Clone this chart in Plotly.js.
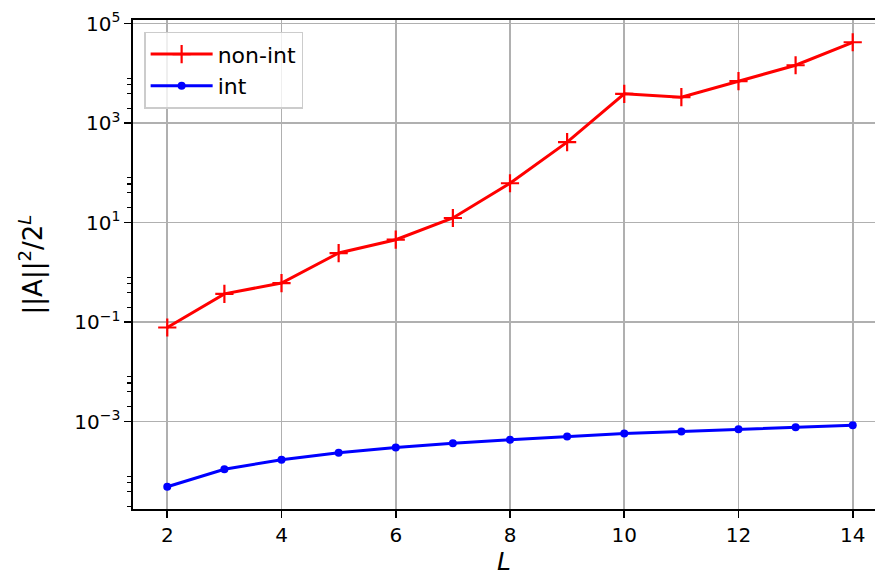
<!DOCTYPE html>
<html>
<head>
<meta charset="utf-8">
<script src="https://cdn.plot.ly/plotly-3.0.1.min.js"></script>
<style>
  html, body { margin: 0; padding: 0; overflow: hidden; background: #ffffff; }
  #chart { width: 875px; height: 576px; }
</style>
</head>
<body>
<div id="chart"></div>
<script>
// System size L
const sizes = [2, 3, 4, 5, 6, 7, 8, 9, 10, 11, 12, 13, 14];

// Normalised squared norm ||A||^2 / 2^L
const nonIntValues = [0.078, 0.37, 0.61, 2.45, 4.54, 12.4, 62, 415, 3880, 3330, 6970, 14600, 42300];
const intValues = [4.9e-5, 1.1e-4, 1.71e-4, 2.36e-4, 3.02e-4, 3.68e-4, 4.3e-4, 5.02e-4, 5.77e-4, 6.33e-4, 7.03e-4, 7.73e-4, 8.47e-4];

// Axis ticks
const xTickVals = [2, 4, 6, 8, 10, 12, 14];
const yTickExponents = [-3, -1, 1, 3, 5];
const yMinorExponents = [-5, -3, -1, 1, 3];
const yMinorSubs = [2, 4, 6, 8];

const yTickVals = yTickExponents.map(e => Math.pow(10, e));
const yTickText = yTickExponents.map(e => '10<sup>' + (e < 0 ? '\u2212' + (-e) : e) + '</sup>');
const yMinorVals = [];
yMinorExponents.forEach(e => yMinorSubs.forEach(s => yMinorVals.push(s * Math.pow(10, e))));

const FONT = 'DejaVu Sans, sans-serif';

const traces = [
  {
    x: sizes, y: nonIntValues, name: 'non-int',
    type: 'scatter', mode: 'lines+markers',
    line: { color: '#ff0000', width: 3 },
    marker: { symbol: 'cross-thin', size: 13, color: '#ff0000', line: { color: '#ff0000', width: 2.2 } }
  },
  {
    x: sizes, y: intValues, name: 'int',
    type: 'scatter', mode: 'lines+markers',
    line: { color: '#0000ff', width: 3 },
    marker: { symbol: 'circle', size: 8, color: '#0000ff' }
  }
];

const layout = {
  width: 875, height: 576,
  margin: { l: 133, r: 0, t: 20, b: 67 },
  paper_bgcolor: '#ffffff', plot_bgcolor: '#ffffff',
  font: { family: FONT, size: 20, color: '#000000' },
  showlegend: true,
  legend: {
    x: 0.015, y: 0.976, xanchor: 'left', yanchor: 'top',
    bgcolor: 'rgba(255,255,255,0.8)', bordercolor: '#cccccc', borderwidth: 1.5,
    font: { family: FONT, size: 22, color: '#000000' },
    itemwidth: 62,
    tracegroupgap: 0
  },
  xaxis: {
    type: 'linear', range: [1.4, 14.39],
    tickmode: 'array', tickvals: xTickVals,
    ticks: 'outside', ticklen: 7, tickwidth: 1.6, tickcolor: '#000000',
    showline: true, linecolor: '#000000', linewidth: 1.6, mirror: true,
    showgrid: true, gridcolor: '#b0b0b0', gridwidth: 1.6,
    zeroline: false,
    tickfont: { family: FONT, size: 20 },
    title: { text: '<i>L</i>', font: { family: FONT, size: 25 }, standoff: 9 }
  },
  yaxis: {
    type: 'log', range: [-4.757, 5.074],
    tickmode: 'array', tickvals: yTickVals, ticktext: yTickText,
    ticks: 'outside', ticklen: 7, tickwidth: 1.6, tickcolor: '#000000',
    showline: true, linecolor: '#000000', linewidth: 1.6, mirror: false,
    showgrid: true, gridcolor: '#b0b0b0', gridwidth: 1.6,
    zeroline: false,
    tickfont: { family: FONT, size: 20 },
    minor: {
      tickmode: 'array', tickvals: yMinorVals,
      ticks: 'outside', ticklen: 4, tickwidth: 1.2, tickcolor: '#000000',
      showgrid: false
    },
    title: { text: '||A||<sup>2</sup>/2<sup><i>L</i></sup>', font: { family: FONT, size: 26 }, standoff: 24 }
  }
};

Plotly.newPlot('chart', traces, layout, { displayModeBar: false, staticPlot: true });
</script>
</body>
</html>
